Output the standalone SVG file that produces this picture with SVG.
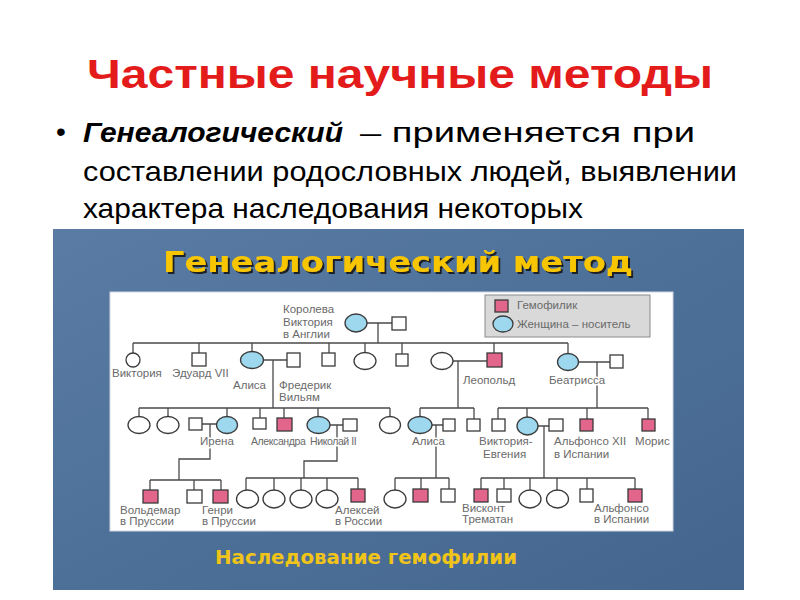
<svg xmlns="http://www.w3.org/2000/svg" width="800" height="600" viewBox="0 0 800 600">
<defs>
<linearGradient id="panelGrad" x1="0" y1="0" x2="1" y2="1">
<stop offset="0" stop-color="#5a7ca4"/>
<stop offset="0.5" stop-color="#4d7099"/>
<stop offset="1" stop-color="#44668e"/>
</linearGradient>
<filter id="shadow" x="-5%" y="-20%" width="110%" height="150%">
<feDropShadow dx="2" dy="2" stdDeviation="0.6" flood-color="#151515" flood-opacity="0.9"/>
</filter>
<style>
.title{font-family:"Liberation Sans",Arial,sans-serif;font-weight:bold;fill:#e31b1b}
.body{font-family:"Liberation Sans",Arial,sans-serif;fill:#000}
.head{font-family:"DejaVu Sans",Verdana,sans-serif;font-weight:bold}
.lbl{font-family:"Liberation Sans",Arial,sans-serif;font-size:11.5px;fill:#6a6a6a;stroke:#fff;stroke-width:3px;paint-order:stroke;stroke-linejoin:round}
.tight{font-size:10.5px;letter-spacing:-0.4px}
.ln{fill:none;stroke:#4a4a4a;stroke-width:1.3}
.m{fill:#fff;stroke:#3a3a3a;stroke-width:1.3}
.f{fill:#fff;stroke:#3a3a3a;stroke-width:1.3}
.h{fill:#e2668c;stroke:#3a3a3a;stroke-width:1.3}
.c{fill:#9ed8ee;stroke:#3a3a3a;stroke-width:1.3}
</style>
</defs>
<rect width="800" height="600" fill="#fff"/>
<text class="title" x="400" y="88" font-size="40" text-anchor="middle" textLength="626" lengthAdjust="spacingAndGlyphs">Частные научные методы</text>
<text class="body" x="56" y="141" font-size="28">•</text>
<text class="body" x="83" y="142" font-size="28" font-weight="bold" font-style="italic" textLength="260" lengthAdjust="spacingAndGlyphs">Генеалогический</text>
<text class="body" x="360" y="142" font-size="28" textLength="335" lengthAdjust="spacingAndGlyphs">– применяется при</text>
<text class="body" x="83" y="181" font-size="28" textLength="654" lengthAdjust="spacingAndGlyphs">составлении родословных людей, выявлении</text>
<text class="body" x="83" y="218" font-size="28" textLength="500" lengthAdjust="spacingAndGlyphs">характера наследования некоторых</text>
<rect x="53" y="229" width="691" height="361" fill="url(#panelGrad)"/>
<text class="head" x="398" y="272" font-size="28" text-anchor="middle" fill="#f7c600" filter="url(#shadow)" textLength="470" lengthAdjust="spacingAndGlyphs">Генеалогический метод</text>
<text class="head" x="366" y="564" font-size="19" text-anchor="middle" fill="#f0c419" textLength="302" lengthAdjust="spacingAndGlyphs">Наследование гемофилии</text>
<rect x="110" y="292" width="563" height="239" fill="#fff" stroke="#cfd6df" stroke-width="1"/>
<g id="legend">
<rect x="485" y="295" width="165" height="42" fill="#d9d9d9" stroke="#8a8a8a" stroke-width="1"/>
<rect x="495" y="300" width="13" height="12" class="h"/>
<text class="lbl" x="517" y="309" style="stroke:none">Гемофилик</text>
<ellipse cx="503" cy="324" rx="10" ry="8" class="c"/>
<text class="lbl" x="517" y="328" style="stroke:none">Женщина – носитель</text>
</g>
<g id="connectors">
<path class="ln" d="M367 323H392M378 323V343M133 343H568M133 343V353M199 343V353M252 343V351M329 343V353M365 343V352M402 343V354M494 343V353M568 343V353"/>
<path class="ln" d="M263 360H287M273 360V408M139 408H390M139 408V416M168 408V416M227 408V416M260 408V418M284 408V418M318 408V416M390 408V416"/>
<path class="ln" d="M453 361H487M458 361V408M420 408H474M420 408V416M474 408V419"/>
<path class="ln" d="M578 362H610M597 362V408M498 408H648M498 408V419M527 408V417M587 408V419M648 408V419"/>
<path class="ln" d="M202 424H216M210 424V459H179V480M150 480H221M150 480V490M194 480V490M221 480V490"/>
<path class="ln" d="M330 425H343M337 425V461H304V478M246 478H358M246 478V490M274 478V490M301 478V490M327 478V490M358 478V489"/>
<path class="ln" d="M432 425H443M436 425V478M395 478H449M395 478V490M421 478V489M449 478V489"/>
<path class="ln" d="M538 426H549M544 426V478M481 478H635M481 478V489M504 478V489M530 478V490M557 478V490M587 478V489M635 478V489"/>
</g>
<g id="queen-victoria"><ellipse cx="356" cy="323" rx="11" ry="9" class="c"/><text class="lbl" x="283" y="313">Королева</text><text class="lbl" x="283" y="326">Виктория</text><text class="lbl" x="283" y="338">в Англии</text></g>
<g id="albert"><rect x="392" y="317" width="14" height="13" class="m"/></g>
<g id="viktoria"><circle cx="133" cy="360" r="7" class="f"/><text class="lbl" x="112" y="377">Виктория</text></g>
<g id="eduard"><rect x="192" y="353" width="14" height="13" class="m"/><text class="lbl" x="172" y="377">Эдуард VII</text></g>
<g id="alisa1"><ellipse cx="252" cy="360" rx="11.5" ry="8.5" class="c"/><text class="lbl" x="233" y="389">Алиса</text></g>
<g id="frederik"><rect x="287" y="353" width="13" height="14" class="m"/><text class="lbl" x="279" y="389">Фредерик</text><text class="lbl" x="279" y="401">Вильям</text></g>
<g id="g2-s4"><rect x="322" y="353" width="13" height="13" class="m"/></g>
<g id="g2-f5"><ellipse cx="365" cy="361" rx="11" ry="8.5" class="f"/></g>
<g id="g2-s6"><rect x="396" y="354" width="12" height="12" class="m"/></g>
<g id="leopold-wife"><ellipse cx="442" cy="361" rx="11" ry="8.5" class="f"/></g>
<g id="leopold"><rect x="487" y="353" width="15" height="14" class="h"/><text class="lbl" x="463" y="384">Леопольд</text></g>
<g id="beatrisa"><ellipse cx="568" cy="362" rx="10.5" ry="8.5" class="c"/><text class="lbl" x="549" y="384">Беатрисса</text></g>
<g id="beatrisa-husband"><rect x="610" y="355" width="13" height="13" class="m"/></g>
<g id="g3-f1"><ellipse cx="139" cy="425" rx="11" ry="8.5" class="f"/></g>
<g id="g3-f2"><ellipse cx="168" cy="425" rx="11" ry="8.5" class="f"/></g>
<g id="irena-husband"><rect x="189" y="418" width="13" height="12" class="m"/></g>
<g id="irena"><ellipse cx="227" cy="425" rx="10.5" ry="8.5" class="c"/><text class="lbl" x="200" y="445">Ирена</text></g>
<g id="g3-s5"><rect x="253" y="418" width="13" height="11" class="m"/></g>
<g id="g3-h6"><rect x="277" y="418" width="15" height="13" class="h"/></g>
<g id="aleksandra"><ellipse cx="318.5" cy="425" rx="11.5" ry="8.5" class="c"/><text class="lbl tight" x="251" y="445">Александра</text></g>
<g id="nikolai"><rect x="343" y="419" width="14" height="12" class="m"/><text class="lbl tight" x="310" y="445">Николай II</text></g>
<g id="g3-f8"><ellipse cx="390" cy="425" rx="10.5" ry="8.5" class="f"/></g>
<g id="alisa2"><ellipse cx="420" cy="425" rx="12" ry="8.5" class="c"/><text class="lbl" x="412" y="445">Алиса</text></g>
<g id="alisa2-husband"><rect x="443" y="419" width="12" height="12" class="m"/></g>
<g id="g3-s-leo"><rect x="467" y="419" width="13" height="12" class="m"/></g>
<g id="g3-s-bea"><rect x="492" y="419" width="13" height="12" class="m"/></g>
<g id="viktoria-evgenia"><ellipse cx="527.5" cy="426" rx="10.5" ry="9" class="c"/><text class="lbl" x="479" y="445">Виктория-</text><text class="lbl" x="483" y="458">Евгения</text></g>
<g id="alfonso13"><rect x="549" y="419" width="14" height="12" class="m"/></g>
<g id="alfonso12"><rect x="580" y="419" width="13" height="12" class="h"/><text class="lbl" x="554" y="445">Альфонсо XII</text><text class="lbl" x="554" y="458">в Испании</text></g>
<g id="moris"><rect x="642" y="419" width="13" height="12" class="h"/><text class="lbl" x="635" y="445">Морис</text></g>
<g id="voldemar"><rect x="143" y="490" width="15" height="13" class="h"/><text class="lbl" x="120" y="514">Вольдемар</text><text class="lbl" x="120" y="525">в Пруссии</text></g>
<g id="g4-s2"><rect x="187" y="490" width="15" height="13" class="m"/></g>
<g id="genri"><rect x="213" y="490" width="15" height="13" class="h"/><text class="lbl" x="202" y="514">Генри</text><text class="lbl" x="202" y="525">в Пруссии</text></g>
<g id="g4-f1"><ellipse cx="247.5" cy="499" rx="11" ry="9" class="f"/></g>
<g id="g4-f2"><ellipse cx="274" cy="499" rx="11" ry="9" class="f"/></g>
<g id="g4-f3"><ellipse cx="301" cy="499" rx="11" ry="9" class="f"/></g>
<g id="g4-f4"><ellipse cx="327" cy="499" rx="11" ry="9" class="f"/></g>
<g id="aleksei"><rect x="351" y="489" width="14" height="13" class="h"/><text class="lbl" x="335" y="514">Алексей</text><text class="lbl" x="335" y="525">в России</text></g>
<g id="g4-f5"><ellipse cx="395" cy="499" rx="11" ry="9" class="f"/></g>
<g id="g4-h6"><rect x="413" y="489" width="15" height="13" class="h"/></g>
<g id="g4-s7"><rect x="441" y="489" width="14" height="13" class="m"/></g>
<g id="viskont"><rect x="474" y="489" width="14" height="13" class="h"/><text class="lbl" x="462" y="512">Висконт</text><text class="lbl" x="462" y="523">Трематан</text></g>
<g id="g4-s9"><rect x="497" y="489" width="14" height="13" class="m"/></g>
<g id="g4-f10"><ellipse cx="530" cy="499" rx="11" ry="9" class="f"/></g>
<g id="g4-f11"><ellipse cx="557.5" cy="499" rx="11" ry="9" class="f"/></g>
<g id="g4-s12"><rect x="580" y="489" width="13" height="13" class="m"/></g>
<g id="alfonso"><rect x="628" y="489" width="14" height="13" class="h"/><text class="lbl" x="594" y="512">Альфонсо</text><text class="lbl" x="594" y="523">в Испании</text></g>
</svg>
